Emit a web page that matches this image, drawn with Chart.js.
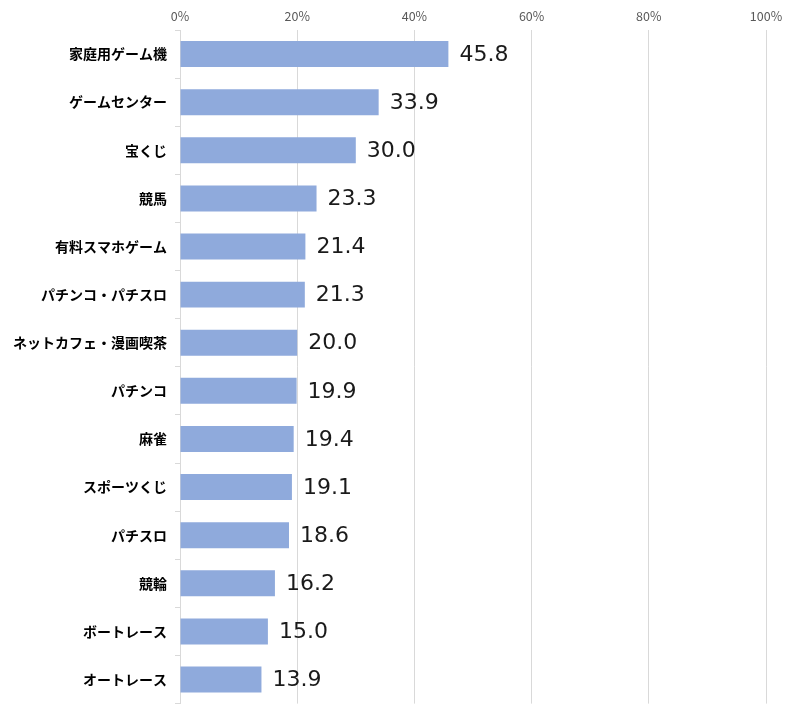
<!DOCTYPE html>
<html><head><meta charset="utf-8">
<script src="https://cdn.jsdelivr.net/npm/chart.js@4/dist/chart.umd.min.js"></script>
<style>html,body{margin:0;padding:0;background:#fff;}#wrap{width:801px;height:720px;}</style>
</head><body><div id="wrap"><canvas id="c" width="801" height="720"></canvas></div>
<script>
const categories = ["家庭用ゲーム機","ゲームセンター","宝くじ","競馬","有料スマホゲーム","パチンコ・パチスロ","ネットカフェ・漫画喫茶","パチンコ","麻雀","スポーツくじ","パチスロ","競輪","ボートレース","オートレース"];
const values = [45.8,33.9,30.0,23.3,21.4,21.3,20.0,19.9,19.4,19.1,18.6,16.2,15.0,13.9];
const xTicks = [0,20,40,60,80,100];

const labelPlugin = {
  id:'valLabels',
  afterDatasetsDraw(chart){
    const ctx = chart.ctx;
    const meta = chart.getDatasetMeta(0);
    ctx.save();
    ctx.font = '22px "DejaVu Sans", sans-serif';
    ctx.fillStyle = '#1a1a1a';
    ctx.textAlign = 'left';
    ctx.textBaseline = 'middle';
    meta.data.forEach((el,i)=>{
      ctx.fillText(values[i].toFixed(1), el.x + 11, el.y + 1);
    });
    ctx.restore();
  }
};

new Chart(document.getElementById('c'), {
  type:'bar',
  data:{labels:categories,datasets:[{data:values,backgroundColor:'#8FAADC',barPercentage:0.54,categoryPercentage:1}]},
  options:{
    indexAxis:'y',responsive:false,animation:false,
    layout:{padding:{left:0,right:35,top:0,bottom:11}},
    plugins:{legend:{display:false},tooltip:{enabled:false}},
    scales:{
      x:{position:'top',min:0,max:100,
        afterBuildTicks(s){s.ticks = xTicks.map(v=>({value:v}));},
        afterFit(s){s.height = 30;},
        ticks:{callback:v=>v+'%',color:'#595959',font:{family:'"Noto Sans CJK JP", sans-serif',size:12.5},padding:6,maxRotation:0},
        grid:{color:'#d9d9d9',drawTicks:false},
        border:{display:false}
      },
      y:{
        afterFit(s){s.width = 180;},
        ticks:{color:'#000',font:{family:'"Noto Sans CJK JP", sans-serif',size:14,weight:'bold'},padding:8},
        grid:{offset:true,drawOnChartArea:false,tickLength:5,color:'#d9d9d9'},
        border:{display:true,color:'#d9d9d9'}
      }
    }
  },
  plugins:[labelPlugin]
});
</script></body></html>
